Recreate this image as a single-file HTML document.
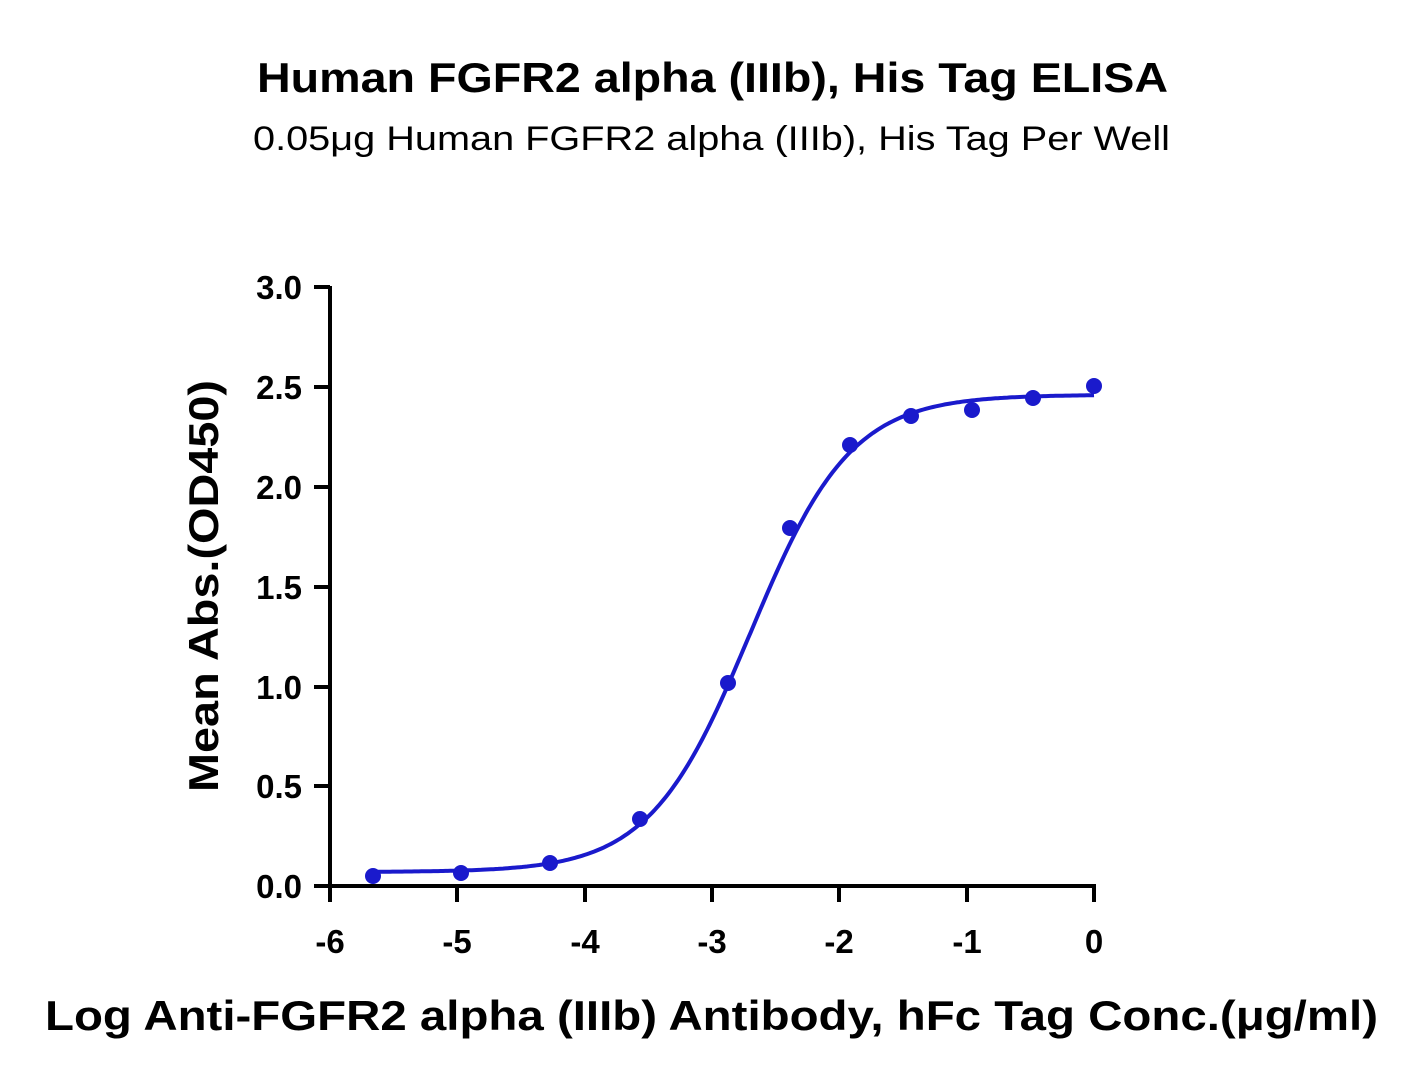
<!DOCTYPE html>
<html><head><meta charset="utf-8"><style>
body{margin:0;background:#fff;}
svg text{font-family:"Liberation Sans",sans-serif;fill:#000;}
</style></head><body>
<svg id="s" width="1424" height="1086" xmlns="http://www.w3.org/2000/svg">
<text x="257" y="92" font-size="42" font-weight="bold" textLength="911" lengthAdjust="spacingAndGlyphs">Human FGFR2 alpha (IIIb), His Tag ELISA</text>
<text x="253" y="150" font-size="34" textLength="917" lengthAdjust="spacingAndGlyphs">0.05μg Human FGFR2 alpha (IIIb), His Tag Per Well</text>
<g stroke="#000" stroke-width="4" fill="none">
<line x1="330" y1="286" x2="330" y2="888"/>
<line x1="328" y1="886" x2="1096" y2="886"/>
<line x1="314" y1="287" x2="330" y2="287"/>
<line x1="314" y1="387" x2="330" y2="387"/>
<line x1="314" y1="487" x2="330" y2="487"/>
<line x1="314" y1="587" x2="330" y2="587"/>
<line x1="314" y1="687" x2="330" y2="687"/>
<line x1="314" y1="786" x2="330" y2="786"/>
<line x1="314" y1="886" x2="330" y2="886"/>
<line x1="330" y1="886" x2="330" y2="902"/>
<line x1="457" y1="886" x2="457" y2="902"/>
<line x1="585" y1="886" x2="585" y2="902"/>
<line x1="712" y1="886" x2="712" y2="902"/>
<line x1="839" y1="886" x2="839" y2="902"/>
<line x1="967" y1="886" x2="967" y2="902"/>
<line x1="1094" y1="886" x2="1094" y2="902"/>
</g>
<g font-size="33" font-weight="bold" text-anchor="end">
<text x="302" y="299">3.0</text><text x="302" y="399">2.5</text><text x="302" y="499">2.0</text>
<text x="302" y="599">1.5</text><text x="302" y="699">1.0</text><text x="302" y="798">0.5</text><text x="302" y="898">0.0</text>
</g>
<g font-size="33" font-weight="bold" text-anchor="middle">
<text x="330" y="953">-6</text><text x="457" y="953">-5</text><text x="585" y="953">-4</text><text x="712" y="953">-3</text>
<text x="839" y="953">-2</text><text x="967" y="953">-1</text><text x="1094" y="953">0</text>
</g>
<text transform="translate(218,792) rotate(-90)" font-size="42" font-weight="bold" textLength="412" lengthAdjust="spacingAndGlyphs">Mean Abs.(OD450)</text>
<text x="45" y="1030" font-size="42" font-weight="bold" textLength="1333" lengthAdjust="spacingAndGlyphs">Log Anti-FGFR2 alpha (IIIb) Antibody, hFc Tag Conc.(μg/ml)</text>
<path id="c" fill="none" stroke="#1a1acc" stroke-width="4"/>
<g fill="#1a1acc">
<circle cx="373" cy="876" r="8"/><circle cx="461" cy="873" r="8"/><circle cx="550" cy="863" r="8"/>
<circle cx="640" cy="819" r="8"/><circle cx="728" cy="683" r="8"/><circle cx="790" cy="528" r="8"/>
<circle cx="850" cy="445" r="8"/><circle cx="911" cy="416" r="8"/><circle cx="972" cy="410" r="8"/>
<circle cx="1033" cy="398" r="8"/><circle cx="1094" cy="386" r="8"/>
</g>
<script>
var d="";for(var i=0;i<=300;i++){var x=-5.66+i*5.66/300;var y=0.07+2.39/(1+Math.pow(10,(-2.7-x)*1.1));var px=330+(x+6)*127.33,py=886-y*199.7;d+=(i?"L":"M")+px.toFixed(1)+","+py.toFixed(1);}
document.getElementById("c").setAttribute("d",d);
</script>
</svg>
</body></html>
